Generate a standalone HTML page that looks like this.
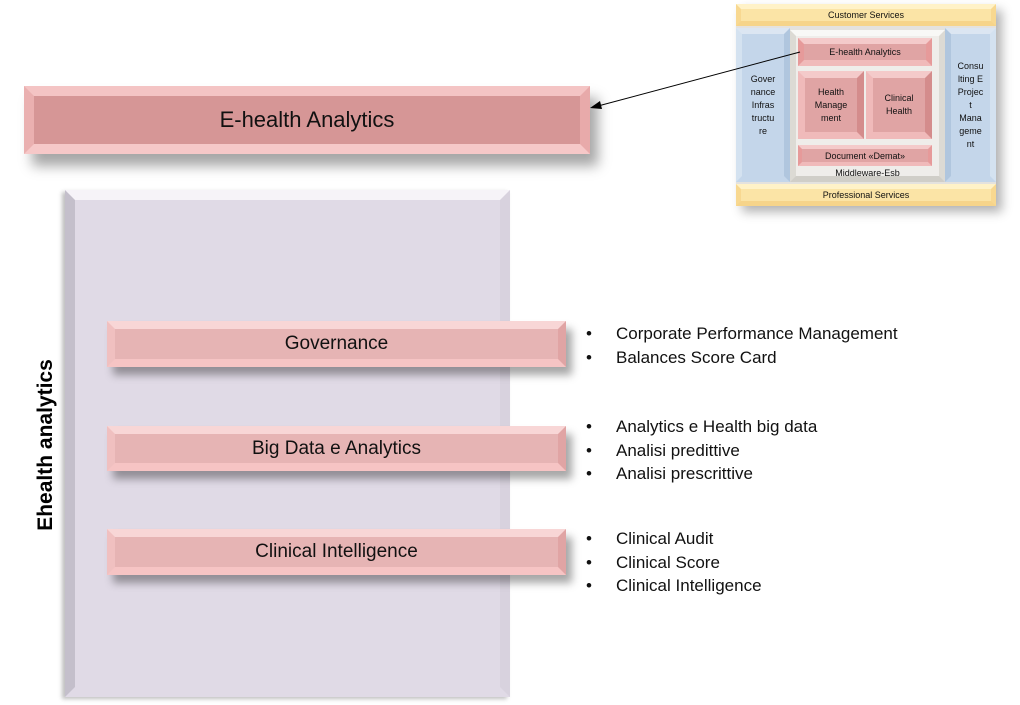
<!DOCTYPE html>
<html><head><meta charset="utf-8"><style>
body{margin:0;width:1020px;height:705px;background:#fff;position:relative;overflow:hidden;font-family:"Liberation Sans",sans-serif;}
.b{position:absolute;box-sizing:border-box;display:flex;align-items:center;justify-content:center;text-align:center;color:#111;}
.t{position:absolute;font-size:17px;color:#111;}
</style></head><body>
<!-- Main header -->
<div class="b" style="left:24px;top:86px;width:566px;height:68px;background:#d69696;border:10px solid;border-color:#f4c4c4 #e8aaaa #f6c8c8 #eab0b0;box-shadow:8px 12px 12px rgba(0,0,0,0.35);font-size:22px;">E-health Analytics</div>
<!-- Big panel -->
<div style="position:absolute;left:65px;top:190px;width:445px;height:507px;box-sizing:border-box;background:#e0dae6;border:10px solid;border-color:#f6f3f8 #d8d2de #e0dae6 #c4bfcb;box-shadow:-3px 2px 4px rgba(0,0,0,0.25);"></div>
<div style="position:absolute;left:46px;top:445px;transform:translate(-50%,-50%) rotate(-90deg);font-weight:bold;font-size:21px;white-space:nowrap;">Ehealth analytics</div>
<div class="b" style="left:107px;top:321px;width:459px;height:46px;background:#e6b4b4;border:8px solid;border-color:#f8d6d6 #e0a4a4 #f6c4c4 #f0c0c0;box-shadow:6px 8px 8px rgba(0,0,0,0.35);font-size:19px;">Governance</div>
<div class="b" style="left:107px;top:426px;width:459px;height:45px;background:#e6b4b4;border:8px solid;border-color:#f8d6d6 #e0a4a4 #f6c4c4 #f0c0c0;box-shadow:6px 8px 8px rgba(0,0,0,0.35);font-size:19px;">Big Data e Analytics</div>
<div class="b" style="left:107px;top:529px;width:459px;height:46px;background:#e6b4b4;border:8px solid;border-color:#f8d6d6 #e0a4a4 #f6c4c4 #f0c0c0;box-shadow:6px 8px 8px rgba(0,0,0,0.35);font-size:19px;">Clinical Intelligence</div>
<!-- bullets -->
<div class="t" style="left:586px;top:322px;line-height:23.5px;">•<br>•</div>
<div class="t" style="left:616px;top:322px;line-height:23.5px;">Corporate Performance Management<br>Balances Score Card</div>
<div class="t" style="left:586px;top:415px;line-height:23.5px;">•<br>•<br>•</div>
<div class="t" style="left:616px;top:415px;line-height:23.5px;">Analytics e Health big data<br>Analisi predittive<br>Analisi prescrittive</div>
<div class="t" style="left:586px;top:527px;line-height:23.5px;">•<br>•<br>•</div>
<div class="t" style="left:616px;top:527px;line-height:23.5px;">Clinical Audit<br>Clinical Score<br>Clinical Intelligence</div>
<!-- small diagram -->
<div style="position:absolute;left:736px;top:4px;width:260px;height:202px;background:#e4e2de;box-shadow:6px 6px 10px rgba(0,0,0,0.3);"></div>
<div class="b" style="left:790px;top:30px;width:155px;height:152px;background:#efedea;border:6px solid;border-color:#f8f8f6 #dcdad4 #d0cec8 #dcdad4;"></div>
<div class="b" style="left:736px;top:4px;width:260px;height:22px;background:#fbe4a6;border:5px solid;border-color:#fff2c8 #f8d890 #f6d48a #f8d890;font-size:9px;">Customer Services</div>
<div class="b" style="left:736px;top:184px;width:260px;height:22px;background:#fbe4a6;border:5px solid;border-color:#fff2c8 #f8d890 #f6d48a #f8d890;font-size:9px;">Professional Services</div>
<div class="b" style="left:736px;top:28px;width:54px;height:154px;background:#c4d6ea;border:6px solid;border-color:#dce6f2 #b0c6de #c4d6ea #d4e2f0;font-size:9px;line-height:13px;">Gover<br>nance<br>Infras<br>tructu<br>re</div>
<div class="b" style="left:945px;top:28px;width:51px;height:154px;background:#c4d6ea;border:6px solid;border-color:#dce6f2 #d4e2f0 #c4d6ea #b0c6de;font-size:9px;line-height:13px;">Consu<br>lting E<br>Projec<br>t<br>Mana<br>geme<br>nt</div>
<div class="b" style="left:798px;top:38px;width:134px;height:28px;background:#e0a4a4;border:6px solid;border-color:#f4caca #e69a9a #f0baba #e69a9a;font-size:9px;">E-health Analytics</div>
<div class="b" style="left:798px;top:71px;width:66px;height:68px;background:#e0a4a4;border:7px solid;border-color:#f4caca #d48c8c #f0baba #f0baba;font-size:9px;line-height:13px;">Health<br>Manage<br>ment</div>
<div class="b" style="left:866px;top:71px;width:66px;height:68px;background:#e0a4a4;border:7px solid;border-color:#f4caca #d48c8c #f0baba #f0baba;font-size:9px;line-height:13px;">Clinical<br>Health</div>
<div class="b" style="left:798px;top:145px;width:134px;height:21px;background:#e0a4a4;border:4px solid;border-color:#f4caca #e69a9a #f0baba #e69a9a;font-size:9px;">Document «Demat»</div>
<div class="t" style="left:790px;top:168px;width:155px;text-align:center;font-size:9px;">Middleware-Esb</div>
<svg style="position:absolute;left:0;top:0" width="1020" height="705"><line x1="800" y1="52" x2="598" y2="106" stroke="#000" stroke-width="1"/><polygon points="590,108 600,101 602,109" fill="#000"/></svg>
</body></html>
